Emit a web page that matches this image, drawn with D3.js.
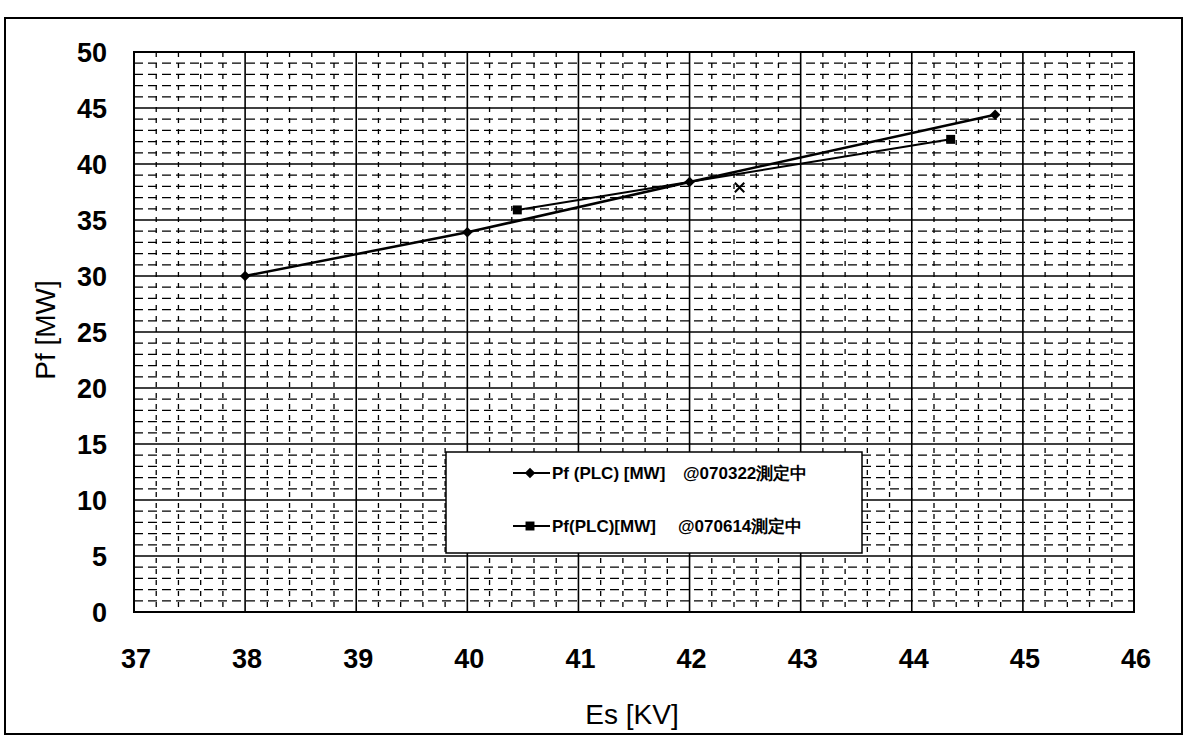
<!DOCTYPE html>
<html><head><meta charset="utf-8">
<script src="https://cdn.jsdelivr.net/npm/d3@7"></script>
<style>body{margin:0;background:#fff}svg{display:block}</style>
</head><body>
<script>
// ---- data ----
const xTicks = [37,38,39,40,41,42,43,44,45,46];
const yTicks = [0,5,10,15,20,25,30,35,40,45,50];
const s1X = [38, 40, 42, 44.75];
const s1Y = [30, 33.9, 38.4, 44.4];
const s2X = [40.45, 44.35];
const s2Y = [35.9, 42.2];
const strayX = [42.45];
const strayY = [37.9];
const legendNames = ["Pf (PLC) [MW]", "Pf(PLC)[MW]"];
const legendNotes = ["@070322測定中", "@070614測定中"];
const xTitle = "Es [KV]";
const yTitle = "Pf [MW]";

const W = 1188, H = 742;
const m = {l:134, r:1134, t:52, b:612};
const svg = d3.select("body").append("svg").attr("width",W).attr("height",H);
const x = d3.scaleLinear().domain([37,46]).range([m.l,m.r]);
const y = d3.scaleLinear().domain([0,50]).range([m.b,m.t]);
const font = "'Liberation Sans', Arial, sans-serif";

// outer frame
svg.append("rect").attr("x",5).attr("y",18).attr("width",1177).attr("height",716)
  .attr("fill","#fff").attr("stroke","#000").attr("stroke-width",2);

const g = svg.append("g");
// minor grid
const xMinor = d3.range(37,46.001,0.2).filter(v=>Math.abs(v-Math.round(v))>0.01);
const yMinor = d3.range(0,50.001,1).filter(v=>v%5!==0);
g.selectAll(".xm").data(xMinor).join("line")
  .attr("x1",d=>x(d)).attr("x2",d=>x(d)).attr("y1",m.t).attr("y2",m.b)
  .attr("stroke","#000").attr("stroke-width",1.3).attr("stroke-dasharray","5,6");
g.selectAll(".ym").data(yMinor).join("line")
  .attr("y1",d=>y(d)).attr("y2",d=>y(d)).attr("x1",m.l).attr("x2",m.r)
  .attr("stroke","#000").attr("stroke-width",1.3).attr("stroke-dasharray","9,5");
// major grid
g.selectAll(".xM").data(xTicks).join("line")
  .attr("x1",d=>x(d)).attr("x2",d=>x(d)).attr("y1",m.t).attr("y2",m.b)
  .attr("stroke","#000").attr("stroke-width",1.6);
g.selectAll(".yM").data(yTicks).join("line")
  .attr("y1",d=>y(d)).attr("y2",d=>y(d)).attr("x1",m.l).attr("x2",m.r)
  .attr("stroke","#000").attr("stroke-width",1.6);
g.append("rect").attr("x",m.l).attr("y",m.t).attr("width",m.r-m.l).attr("height",m.b-m.t)
  .attr("fill","none").attr("stroke","#000").attr("stroke-width",2);

// tick labels
svg.selectAll(".yl").data(yTicks).join("text")
  .attr("x",107).attr("y",d=>y(d)).attr("dy","0.36em").attr("text-anchor","end")
  .attr("font-family",font).attr("font-weight","bold").attr("font-size",27).text(d=>d);
svg.selectAll(".xl").data(xTicks).join("text")
  .attr("x",d=>x(d)+2).attr("y",658).attr("dy","0.36em").attr("text-anchor","middle")
  .attr("font-family",font).attr("font-weight","bold").attr("font-size",27).text(d=>d);
svg.append("text").attr("x",632).attr("y",714).attr("dy","0.36em").attr("text-anchor","middle")
  .attr("font-family",font).attr("font-size",28).text(xTitle);
svg.append("text").attr("transform","translate(45,330) rotate(-90)").attr("dy","0.36em")
  .attr("text-anchor","middle").attr("font-family",font).attr("font-size",28).text(yTitle);

// series
const line = d3.line().x(d=>x(d[0])).y(d=>y(d[1]));
const s1 = s1X.map((v,i)=>[v,s1Y[i]]);
const s2 = s2X.map((v,i)=>[v,s2Y[i]]);
svg.append("path").attr("d",line(s1)).attr("fill","none").attr("stroke","#000").attr("stroke-width",2.5);
svg.append("path").attr("d",line(s2)).attr("fill","none").attr("stroke","#000").attr("stroke-width",2);
const diamond = d3.symbol().type(d3.symbolSquare).size(55);
const square = d3.symbol().type(d3.symbolSquare).size(80);
svg.selectAll(".p1").data(s1).join("path").attr("d",diamond)
  .attr("transform",d=>`translate(${x(d[0])},${y(d[1])}) rotate(45)`).attr("fill","#000");
svg.selectAll(".p2").data(s2).join("path").attr("d",square)
  .attr("transform",d=>`translate(${x(d[0])},${y(d[1])})`).attr("fill","#000");
svg.selectAll(".p3").data(strayX.map((v,i)=>[v,strayY[i]])).join("path")
  .attr("d",d3.symbol().type(d3.symbolTimes).size(60))
  .attr("transform",d=>`translate(${x(d[0])},${y(d[1])})`).attr("stroke","#000").attr("stroke-width",2);

// legend
const lg = svg.append("g");
lg.append("rect").attr("x",446).attr("y",452).attr("width",416).attr("height",101)
  .attr("fill","#fff").attr("stroke","#000").attr("stroke-width",1.5);
const ly = [473,526];
const syms = [diamond, square];
const rots = [45, 0];
legendNames.forEach((t,i)=>{
  lg.append("line").attr("x1",513).attr("x2",550).attr("y1",ly[i]).attr("y2",ly[i])
    .attr("stroke","#000").attr("stroke-width",2);
  lg.append("path").attr("d",syms[i]).attr("transform",`translate(530,${ly[i]}) rotate(${rots[i]})`).attr("fill","#000");
  lg.append("text").attr("x",552).attr("y",ly[i]).attr("dy","0.36em")
    .attr("font-family",font).attr("font-weight","bold").attr("font-size",17).text(t);
  lg.append("text").attr("x",i===0?683:678).attr("y",ly[i]).attr("dy","0.36em")
    .attr("font-family",font).attr("font-weight","bold").attr("font-size",17).text(legendNotes[i]);
});
</script>
</body></html>
